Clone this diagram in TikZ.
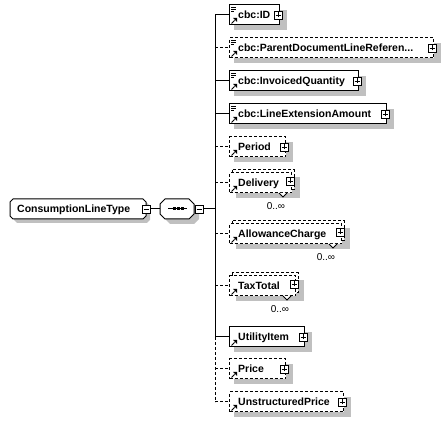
\documentclass[tikz,border=0pt]{standalone}
\usepackage{fontspec}
\setmainfont{Liberation Sans}
\definecolor{shadowgray}{RGB}{192,192,192}
\newcommand\efont{\fontsize{10.5pt}{12pt}\selectfont\bfseries}
\newcommand\ofont{\fontsize{10pt}{12pt}\selectfont}
\tikzset{
  x=1pt, y=-1pt,
  conn/.style={line width=1pt},
  dsh/.style={dash pattern=on 3pt off 2pt},
  ebox/.style={draw, line width=1pt, fill=white, minimum height=20pt, inner sep=0pt},
  etext/.style={font=\efont, inner sep=0pt, text=black},
  pm/.style={draw, line width=0.8pt, fill=white, minimum size=8pt, inner sep=0pt},
  shadowc/.style={fill=shadowgray},
  occ/.style={font=\ofont, inner sep=0pt}
}
\newcommand\elemicons[3]{%
  \draw[line width=0.9pt] (231.5,#1+8.5) -- (234.5,#1+5.5);
  \fill (237,#1+3) -- (237,#1+7) -- (233,#1+3) -- cycle;
  \ifnum#2=1 \draw[line width=0.7pt] (231,#1-8) -- (236,#1-8) (231,#1-6) -- (236,#1-6) (231,#1-4) -- (234,#1-4);\fi
}
\newcommand\plusmark[1]{%
  \draw[line width=0.8pt] ([xshift=-2.5pt]#1.center) -- ([xshift=2.5pt]#1.center)
    ([yshift=-2.5pt]#1.center) -- ([yshift=2.5pt]#1.center);
}
\newcommand\elemnode[6]{%
  \fill[shadowc] (234,#2-5) rectangle (#3+8,#2+15);
  \node[ebox,#5,minimum width={(#3-229)*1pt},anchor=west] (#1) at (229,#2) {};
  \node[etext,anchor=base west] (#1-t) at (238,#2+4) {#4};
  \node[pm] (#1-p) at (#3-1,#2) {};
  \plusmark{#1-p}
  \elemicons{#2}{#6}{}
}
\newcommand\elemmulti[5]{%
  \fill[shadowc] (236,#2-6) rectangle (#3+9,#2+15);
  \draw[#5, line width=1pt, fill=white] (232,#2-13) rectangle (#3+3,#2+7);
  \node[ebox,#5,minimum width={(#3-229)*1pt},anchor=west] (#1) at (229,#2) {};
  \node[etext,anchor=base west] (#1-t) at (238,#2+4) {#4};
  \node[pm] (#1-p) at (#3-1,#2-2) {};
  \plusmark{#1-p}
  \elemicons{#2}{0}{}
  \draw[line width=0.8pt, fill=white] (#3-12,#2+10) -- (#3-8,#2+14) -- (#3-4,#2+10);
  \node[occ] (#1-o) at (#3-15,#2+23) {0..∞};
}
\begin{document}
\begin{tikzpicture}
\useasboundingbox (0,0) rectangle (445,422);

% ConsumptionLineType
\fill[shadowc] (14,206) -- (17,203) -- (147,203) -- (150,206) -- (150,220) -- (147,223) -- (17,223) -- (14,220) -- cycle;
\draw[line width=1pt, fill=white] (10,202) -- (13,199) -- (143,199) -- (146,202) -- (146,216) -- (143,219) -- (13,219) -- (10,216) -- cycle;
\node[inner sep=0pt, minimum width=136pt, minimum height=20pt] (clt) at (78,209) {};
\node[etext, anchor=base west] (clt-t) at (17,213) {ConsumptionLineType};
\node[pm] (clt-m) at (146,209) {};
\draw[line width=0.8pt] ([xshift=-2.5pt]clt-m.center) -- ([xshift=2.5pt]clt-m.center);

% sequence compositor
\fill[shadowc] (165,209) -- (170,204) -- (194,204) -- (199,209) -- (199,219) -- (194,224) -- (170,224) -- (165,219) -- cycle;
\draw[line width=1pt, fill=white] (160,204) -- (165,199) -- (189,199) -- (194,204) -- (194,214) -- (189,219) -- (165,219) -- (160,214) -- cycle;
\node[inner sep=0pt, minimum width=34pt, minimum height=20pt] (seq) at (177,209) {};
\draw[line width=1pt] (168,209) -- (187,209);
\foreach \dx in {174,178,182} \fill (\dx-1.5,207.5) rectangle (\dx+1.5,210.5);
\node[pm] (seq-m) at (199,209) {};
\draw[line width=0.8pt] ([xshift=-2.5pt]seq-m.center) -- ([xshift=2.5pt]seq-m.center);

\draw[conn] (clt-m.east) -- (seq.west);

% children
\elemnode{id}{15}{279}{cbc:ID}{solid}{1}
\elemnode{pdl}{48}{433}{cbc:ParentDocumentLineReferen...}{dsh}{1}
\elemnode{iq}{81}{358}{cbc:InvoicedQuantity}{solid}{1}
\elemnode{lea}{114}{386}{cbc:LineExtensionAmount}{solid}{1}
\elemnode{per}{147}{285}{Period}{dsh}{0}
\elemmulti{del}{183}{291}{Delivery}{dsh}
\elemmulti{ac}{234}{341}{AllowanceCharge}{dsh}
\elemmulti{tt}{286}{295}{TaxTotal}{dsh}
\elemnode{ui}{337}{304}{UtilityItem}{solid}{0}
\elemnode{pr}{369}{285}{Price}{dsh}{0}
\elemnode{up}{402}{343}{UnstructuredPrice}{dsh}{0}

% bus
\coordinate (b-id) at (215,15);
\coordinate (b-pdl) at (215,48);
\coordinate (b-iq) at (215,81);
\coordinate (b-lea) at (215,114);
\coordinate (b-per) at (215,147);
\coordinate (b-del) at (215,183);
\coordinate (b-seq) at (215,209);
\coordinate (b-ac) at (215,234);
\coordinate (b-tt) at (215,286);
\coordinate (b-ui) at (215,337);
\coordinate (b-pr) at (215,369);
\coordinate (b-up) at (215,402);

\draw[conn] (seq-m.east) -- (b-seq);
\draw[conn] (b-id) -- (b-ui);
\draw[conn,dsh] (b-ui) -- (b-up);

\draw[conn] (b-id) -- (id.west);
\draw[conn,dsh] (b-pdl) -- (pdl.west);
\draw[conn] (b-iq) -- (iq.west);
\draw[conn] (b-lea) -- (lea.west);
\draw[conn,dsh] (b-per) -- (per.west);
\draw[conn,dsh] (b-del) -- (del.west);
\draw[conn,dsh] (b-ac) -- (ac.west);
\draw[conn,dsh] (b-tt) -- (tt.west);
\draw[conn] (b-ui) -- (ui.west);
\draw[conn,dsh] (b-pr) -- (pr.west);
\draw[conn,dsh] (b-up) -- (up.west);
\end{tikzpicture}
\end{document}
